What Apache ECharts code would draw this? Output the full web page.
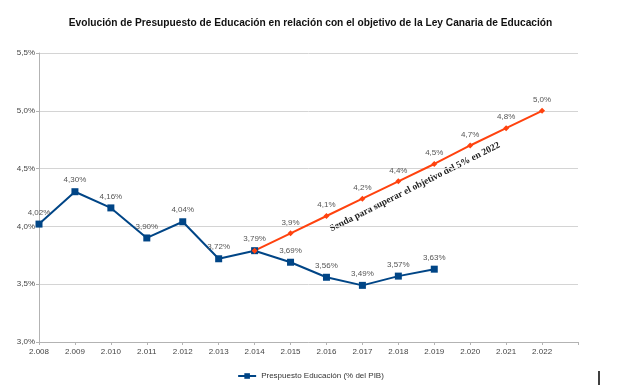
<!DOCTYPE html>
<html><head><meta charset="utf-8">
<script src="https://cdn.jsdelivr.net/npm/echarts@6/dist/echarts.min.js"></script>
<style>html,body{margin:0;padding:0;background:#fff}#c{width:621px;height:392px}</style>
</head><body><div id="c"></div>
<script>
const years = ['2.008','2.009','2.010','2.011','2.012','2.013','2.014','2.015','2.016','2.017','2.018','2.019','2.020','2.021','2.022',''];
const presupuesto = [4.02,4.30,4.16,3.90,4.04,3.72,3.79,3.69,3.56,3.49,3.57,3.63];
const presupuestoLabels = ['4,02%','4,30%','4,16%','3,90%','4,04%','3,72%','3,79%','3,69%','3,56%','3,49%','3,57%','3,63%'];
const senda = [null,null,null,null,null,null,3.79,3.94,4.09,4.24,4.39,4.54,4.70,4.85,5.00];
const sendaLabels = ['','','','','','','','3,9%','4,1%','4,2%','4,4%','4,5%','4,7%','4,8%','5,0%'];
const yTicks = {min:3.0,max:5.5,interval:0.5};
const titleText = 'Evolución de Presupuesto de Educación en relación con el objetivo de la Ley Canaria de Educación';
const seriesName = 'Prespuesto Educación (% del PIB)';
const annotation = 'Senda para superar el objetivo del 5% en 2022';

const chart = echarts.init(document.getElementById('c'));
const lblStyle = {fontFamily:'Liberation Sans, Arial', fontSize:8, color:'#555'};
chart.setOption({
  animation:false,
  title:{text:titleText,left:'center',top:13,textStyle:{fontFamily:'Liberation Sans, Arial',fontSize:10.2,fontWeight:'bold',color:'#111'}},
  grid:{left:39,right:43,top:53,bottom:50},
  legend:{data:[seriesName],bottom:7,left:'center',itemWidth:18,itemHeight:7,textStyle:{fontFamily:'Liberation Sans, Arial',fontSize:8,color:'#333'}},
  xAxis:{type:'category',data:years,boundaryGap:false,
    axisLine:{lineStyle:{color:'#b3b3b3'}},axisTick:{show:true,length:3,lineStyle:{color:'#b3b3b3'}},
    axisLabel:{fontFamily:'Liberation Sans, Arial',fontSize:8,color:'#444',margin:6,interval:0},
    splitLine:{show:false}},
  yAxis:{type:'value',min:yTicks.min,max:yTicks.max,interval:yTicks.interval,
    axisLine:{show:true,lineStyle:{color:'#b3b3b3'}},axisTick:{show:true,length:3,lineStyle:{color:'#b3b3b3'}},
    splitLine:{lineStyle:{color:'#d4d4d4'}},
    axisLabel:{fontFamily:'Liberation Sans, Arial',fontSize:8,color:'#444',margin:4,formatter:v=>v.toFixed(1).replace('.',',')+'%'}},
  series:[
    {name:seriesName,type:'line',data:presupuesto,symbol:'rect',symbolSize:7,
      itemStyle:{color:'#004586'},lineStyle:{color:'#004586',width:2},
      label:{show:true,position:'top',distance:4,...lblStyle,formatter:p=>presupuestoLabels[p.dataIndex]}},
    {name:'Senda',type:'line',data:senda,symbol:'diamond',symbolSize:6,
      itemStyle:{color:'#ff420e'},lineStyle:{color:'#ff420e',width:2},z:3,
      label:{show:true,position:'top',distance:4,...lblStyle,formatter:p=>sendaLabels[p.dataIndex]}}
  ],
  graphic:[
    {type:'text',x:415,y:187,rotation:0.464,style:{text:annotation,fill:'#222',font:'bold 9.5px "Liberation Serif", "Times New Roman", serif',align:'center',verticalAlign:'middle'}},
    {type:'line',shape:{x1:599,y1:371,x2:599,y2:385},style:{stroke:'#000',lineWidth:1.5}}
  ]
});
</script></body></html>
